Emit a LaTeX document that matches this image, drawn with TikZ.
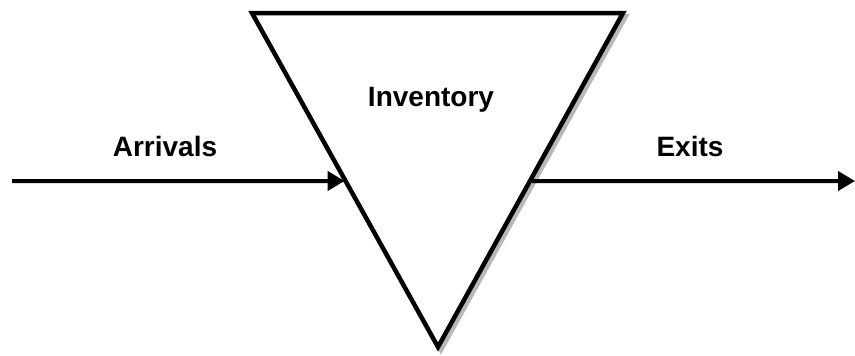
\documentclass[tikz,border=0pt]{standalone}
\usepackage{fontspec}
\setmainfont{Liberation Sans}
\usetikzlibrary{arrows.meta,positioning,calc}
\tikzset{
  stock/.style={draw=black, fill=white, line width=4.5pt, line join=miter},
  stockshade/.style={fill=black!28, draw=black!28, line width=4.5pt},
  flow/.style={-{Triangle[length=17pt,width=19pt]}, line width=4pt},
  lbl/.style={font=\fontsize{28}{30}\selectfont\bfseries, inner sep=0pt}
}

\begin{document}
\begin{tikzpicture}[x=1pt, y=-1pt]
\useasboundingbox (0,0) rectangle (855,356);
% triangle corners
\coordinate (tl) at (252,13);
\coordinate (tr) at (623,13);
\coordinate (ap) at (438,347);
\fill[stockshade] ([shift={(3,3)}]tl) -- ([shift={(3,3)}]tr) -- ([shift={(3,3)}]ap) -- cycle;
\draw[stock] (tl) -- (tr) -- (ap) -- cycle;
% where the flows meet the stock
\coordinate (inL) at ($(tl)!0.503!(ap)$);
\coordinate (outR) at ($(tr)!0.503!(ap)$);
\coordinate (src) at (12,181);
\coordinate (snk) at (855,181);
\draw[flow, shorten >=1pt] (src) -- (inL);
\draw[flow, shorten <=2pt] (outR) -- (snk);
\node[lbl] (arr) at (165,146) {Arrivals};
\node[lbl] (inv) at (431,100) {Inventory};
\node[lbl] (ex) at (690,146) {Exits};
\end{tikzpicture}
\end{document}
